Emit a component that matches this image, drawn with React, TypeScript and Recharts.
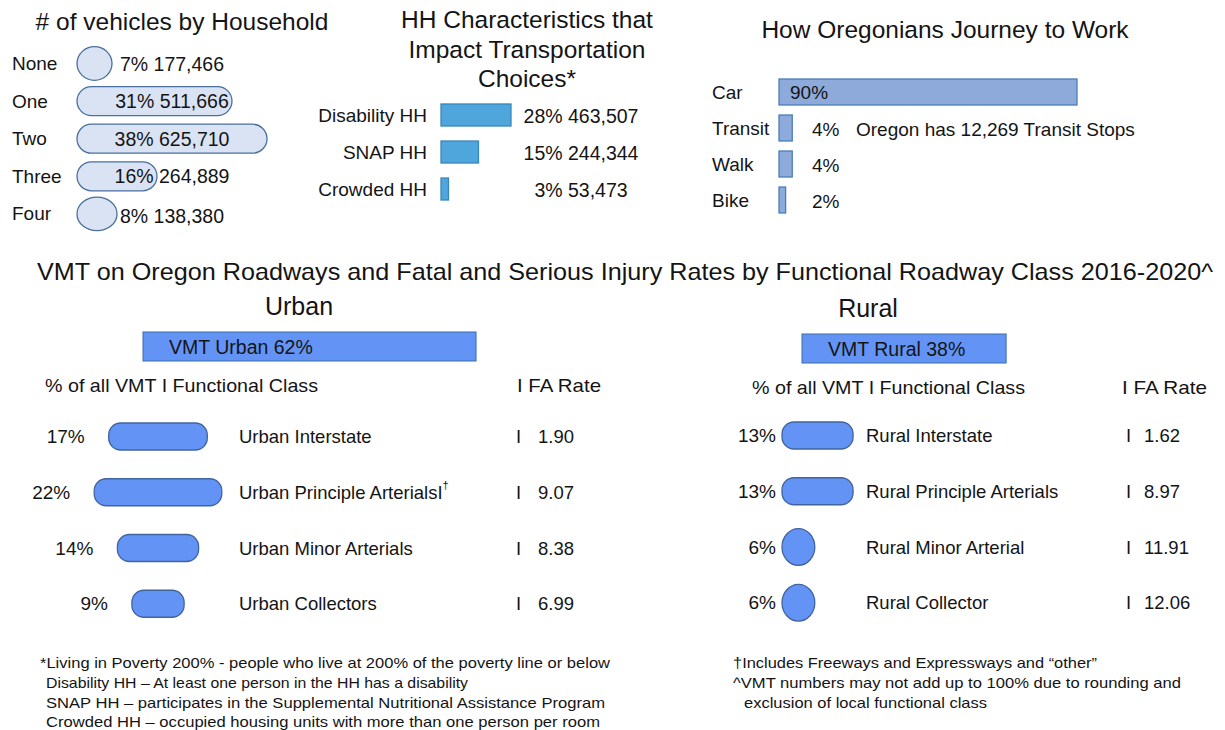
import React from 'react';
import { BarChart, Bar, XAxis, YAxis, LabelList } from 'recharts';

const FONT = '"Liberation Sans", Arial, Helvetica, sans-serif';
const INK = '#141414';

// ---- # of vehicles by household ----
const vehicleCats = ['None', 'One', 'Two', 'Three', 'Four'];
const vehiclePct = [7, 31, 38, 16, 8];
const vehicleHH = [177466, 511666, 625710, 264889, 138380];

// ---- HH characteristics ----
const hhCats = ['Disability HH', 'SNAP HH', 'Crowded HH'];
const hhPct = [28, 15, 3];
const hhCount = [463507, 244344, 53473];

// ---- Journey to work ----
const modeCats = ['Car', 'Transit', 'Walk', 'Bike'];
const modePct = [90, 4, 4, 2];
const transitStops = 12269;

// ---- VMT share ----
const vmtAreas = ['Urban', 'Rural'];
const vmtShare = [62, 38];

// ---- Urban functional classes ----
const urbanClasses = ['Urban Interstate', 'Urban Principle ArterialsI', 'Urban Minor Arterials', 'Urban Collectors'];
const urbanMarks = ['', '†', '', ''];
const urbanPct = [17, 22, 14, 9];
const urbanFA = [1.9, 9.07, 8.38, 6.99];

// ---- Rural functional classes ----
const ruralClasses = ['Rural Interstate', 'Rural Principle Arterials', 'Rural Minor Arterial', 'Rural Collector'];
const ruralPct = [13, 13, 6, 6];
const ruralFA = [1.62, 8.97, 11.91, 12.06];

const fmt = (n: number) => n.toLocaleString('en-US');

const vehicleData = vehicleCats.map((name, i) => ({ name, value: vehiclePct[i] }));
const hhData = hhCats.map((name, i) => ({ name, value: hhPct[i] }));
const modeData = modeCats.map((name, i) => ({ name, value: modePct[i] }));
const urbanVmtData = [{ name: vmtAreas[0], value: vmtShare[0] }];
const ruralVmtData = [{ name: vmtAreas[1], value: vmtShare[1] }];
const urbanData = urbanClasses.map((name, i) => ({ name, value: urbanPct[i] }));
const ruralData = ruralClasses.map((name, i) => ({ name, value: ruralPct[i] }));

type ShapeOpts = { center?: number; radius?: number | 'full'; ellipseBelow?: number; ellipseRy?: number; sw?: number };
function makeShape(opts: ShapeOpts) {
  return (p: any) => {
    const w = Math.max(Number(p.width) || 0, 0);
    const h = Number(p.height) || 0;
    const y = Number(p.y);
    let x = Number(p.x);
    if (opts.center !== undefined) x = opts.center - w / 2;
    const sw = opts.sw ?? 1.3;
    if (opts.ellipseBelow && w < h * opts.ellipseBelow) {
      return (
        <ellipse cx={x + w / 2} cy={y + h / 2} rx={w / 2} ry={h * (opts.ellipseRy ?? 0.6)} fill={p.fill} stroke={p.stroke} strokeWidth={sw} />
      );
    }
    const r = opts.radius === 'full' ? h / 2 : opts.radius ?? 0;
    return (
      <rect x={x} y={y} width={w} height={h} rx={Math.min(r, w / 2)} ry={Math.min(r, h / 2)} fill={p.fill} stroke={p.stroke} strokeWidth={sw} />
    );
  };
}

type HProps = {
  data: any[]; left: number; top: number; width: number; height: number;
  plotLeft: number; plotWidth: number; max: number; barSize: number;
  fill: string; stroke: string; shape?: any; label?: (p: any) => any;
};
function HChart({ data, left, top, width, height, plotLeft, plotWidth, max, barSize, fill, stroke, shape, label }: HProps) {
  return (
    <div style={{ position: 'absolute', left, top, width, height }}>
      <BarChart
        width={width}
        height={height}
        data={data}
        layout="vertical"
        barCategoryGap={0}
        margin={{ top: 0, bottom: 0, left: plotLeft, right: width - plotLeft - plotWidth }}
      >
        <XAxis type="number" domain={[0, max]} hide />
        <YAxis type="category" dataKey="name" hide width={0} />
        <Bar dataKey="value" barSize={barSize} fill={fill} stroke={stroke} isAnimationActive={false} shape={shape}>
          {label ? <LabelList dataKey="name" content={label} /> : null}
        </Bar>
      </BarChart>
    </div>
  );
}

const box = (p: any) => {
  const v = p.viewBox && p.viewBox.width !== undefined ? p.viewBox : p;
  return { x: Number(v.x), y: Number(v.y), w: Number(v.width), h: Number(v.height), i: Number(p.index) };
};

const txt = (x: number, y: number, s: any, size = 19, anchor: any = 'start', key?: any) => (
  <text key={key} x={x} y={y} fontSize={size} fill={INK} fontFamily={FONT} textAnchor={anchor} dominantBaseline="central">
    {s}
  </text>
);

// label renderers
const vehicleLabel = (p: any) => {
  const { y, h, i } = box(p);
  const cy = y + h / 2;
  return (
    <g>
      {txt(12, cy, vehicleCats[i], 19)}
      {txt(172, cy + (i === 4 ? 2 : 0), `${vehiclePct[i]}% ${fmt(vehicleHH[i])}`, 19.5, 'middle')}
    </g>
  );
};

const hhLabel = (p: any) => {
  const { y, h, i } = box(p);
  const cy = y + h / 2;
  return (
    <g>
      {txt(127, cy, hhCats[i], 19, 'end')}
      {txt(281, cy + 1, `${hhPct[i]}% ${fmt(hhCount[i])}`, 19.5, 'middle')}
    </g>
  );
};

const modeLabel = (p: any) => {
  const { x, y, h, i } = box(p);
  const cy = y + h / 2;
  const big = modePct[i] > 50;
  return (
    <g>
      {txt(12, cy, modeCats[i], 19)}
      {txt(big ? x + 11 : 112, cy + (big ? 0 : 1), `${modePct[i]}%`, 19)}
      {modeCats[i] === 'Transit' ? txt(156, cy + 1, `Oregon has ${fmt(transitStops)} Transit Stops`, 19) : null}
    </g>
  );
};

const vmtLabel = (p: any) => {
  const { x, y, h } = box(p);
  const name = p.value;
  const idx = vmtAreas.indexOf(name);
  return <g>{txt(x + 26, y + h / 2, `VMT ${name} ${vmtShare[idx]}%`, 19.5)}</g>;
};

const URBAN_CX = 158;
const urbanLabel = (p: any) => {
  const { y, w, h, i } = box(p);
  const cy = y + h / 2;
  return (
    <g>
      {txt(URBAN_CX - w / 2 - 24, cy, `${urbanPct[i]}%`, 19, 'end')}
      <text x={239} y={cy} fontSize={18.5} fill={INK} fontFamily={FONT} dominantBaseline="central">
        {urbanClasses[i]}
        {urbanMarks[i] ? <tspan fontSize={11} dy={-7}>{urbanMarks[i]}</tspan> : null}
      </text>
      {txt(516, cy, 'I', 18.5)}
      {txt(538, cy, urbanFA[i].toFixed(2), 18.5)}
    </g>
  );
};

const ruralLabel = (p: any) => {
  const { y, h, i } = box(p);
  const cy = y + h / 2;
  return (
    <g>
      {txt(156, cy, `${ruralPct[i]}%`, 19, 'end')}
      {txt(246, cy, ruralClasses[i], 18.5)}
      {txt(506, cy, 'I', 18.5)}
      {txt(524, cy, ruralFA[i].toFixed(2), 18.5)}
    </g>
  );
};

const T = ({ x, y, s, size = 19, anchor = 'start', len }: any) => (
  <text
    x={x}
    y={y}
    fontSize={size}
    fill={INK}
    fontFamily={FONT}
    textAnchor={anchor}
    dominantBaseline="central"
    {...(len ? { textLength: len, lengthAdjust: 'spacingAndGlyphs' } : {})}
  >
    {s}
  </text>
);

export default function App() {
  return (
    <div style={{ position: 'absolute', left: 0, top: 0, width: 1225, height: 730, background: '#fff', fontFamily: FONT, overflow: 'hidden' }}>
      {/* # of vehicles */}
      <HChart data={vehicleData} left={0} top={45} width={300} height={188} plotLeft={77} plotWidth={200} max={40} barSize={29}
        fill="#dae3f3" stroke="#4a6f9e" shape={makeShape({ radius: 'full', ellipseBelow: 1.5, ellipseRy: 0.58 })} label={vehicleLabel} />

      {/* HH characteristics */}
      <HChart data={hhData} left={300} top={95.5} width={360} height={111} plotLeft={141} plotWidth={75} max={30} barSize={22}
        fill="#4ea6dc" stroke="#3a86b8" shape={makeShape({})} label={hhLabel} />

      {/* Journey to work */}
      <HChart data={modeData} left={700} top={74} width={525} height={144} plotLeft={79} plotWidth={298} max={90} barSize={26}
        fill="#8eaadb" stroke="#4a7ebb" shape={makeShape({})} label={modeLabel} />

      {/* VMT share bars */}
      <HChart data={urbanVmtData} left={0} top={329} width={620} height={34} plotLeft={143} plotWidth={376} max={70} barSize={29}
        fill="#6394f5" stroke="#3b6ea5" shape={makeShape({ sw: 1 })} label={vmtLabel} />
      <HChart data={ruralVmtData} left={620} top={331} width={605} height={34} plotLeft={182} plotWidth={376} max={70} barSize={29}
        fill="#6394f5" stroke="#3b6ea5" shape={makeShape({ sw: 1 })} label={vmtLabel} />

      {/* Urban classes */}
      <HChart data={urbanData} left={0} top={409} width={620} height={223} plotLeft={71} plotWidth={174} max={30} barSize={27}
        fill="#6394f5" stroke="#41649e" shape={makeShape({ center: URBAN_CX, radius: 12 })} label={urbanLabel} />

      {/* Rural classes */}
      <HChart data={ruralData} left={620} top={408} width={605} height={223} plotLeft={162} plotWidth={164} max={30} barSize={27}
        fill="#6394f5" stroke="#41649e" shape={makeShape({ radius: 12, ellipseBelow: 1.5, ellipseRy: 0.68 })} label={ruralLabel} />

      <svg width={1225} height={730} style={{ position: 'absolute', left: 0, top: 0, pointerEvents: 'none' }}>
        <T x={182} y={21} s="# of vehicles by Household" size={24.5} anchor="middle" />
        <T x={527} y={19} s="HH Characteristics that" size={24.5} anchor="middle" />
        <T x={527} y={49} s="Impact Transportation" size={24.5} anchor="middle" />
        <T x={527} y={78} s="Choices*" size={24.5} anchor="middle" />
        <T x={945} y={29} s="How Oregonians Journey to Work" size={24.5} anchor="middle" />

        <T x={37} y={271} s="VMT  on Oregon Roadways and Fatal and Serious Injury Rates by Functional Roadway Class 2016-2020^" size={24} len={1176} />
        <T x={299} y={306} s="Urban" size={25} anchor="middle" />
        <T x={868} y={308} s="Rural" size={25} anchor="middle" />

        <T x={45} y={385} s="% of all VMT I  Functional Class" size={18.5} len={273} />
        <T x={517} y={385} s="I  FA Rate" size={18.5} len={84} />
        <T x={752} y={387} s="% of all VMT I  Functional Class" size={18.5} len={273} />
        <T x={1122} y={387} s="I  FA Rate" size={18.5} len={85} />

        <T x={40} y={662} s="*Living in Poverty 200% - people who live at 200% of the poverty line or below" size={15} len={570} />
        <T x={46} y={682} s="Disability HH – At least one person in the HH has a disability" size={15} len={422} />
        <T x={46} y={702} s="SNAP HH – participates in the Supplemental Nutritional Assistance Program" size={15} len={559} />
        <T x={46} y={721} s="Crowded HH – occupied housing units with more than one person per room" size={15} len={554} />

        <T x={733} y={662} s="†Includes Freeways and Expressways and “other”" size={15} len={364} />
        <T x={733} y={682} s="^VMT numbers may not add up to 100% due to rounding and" size={15} len={448} />
        <T x={744} y={702} s="exclusion of local functional class" size={15} len={243} />
      </svg>
    </div>
  );
}
